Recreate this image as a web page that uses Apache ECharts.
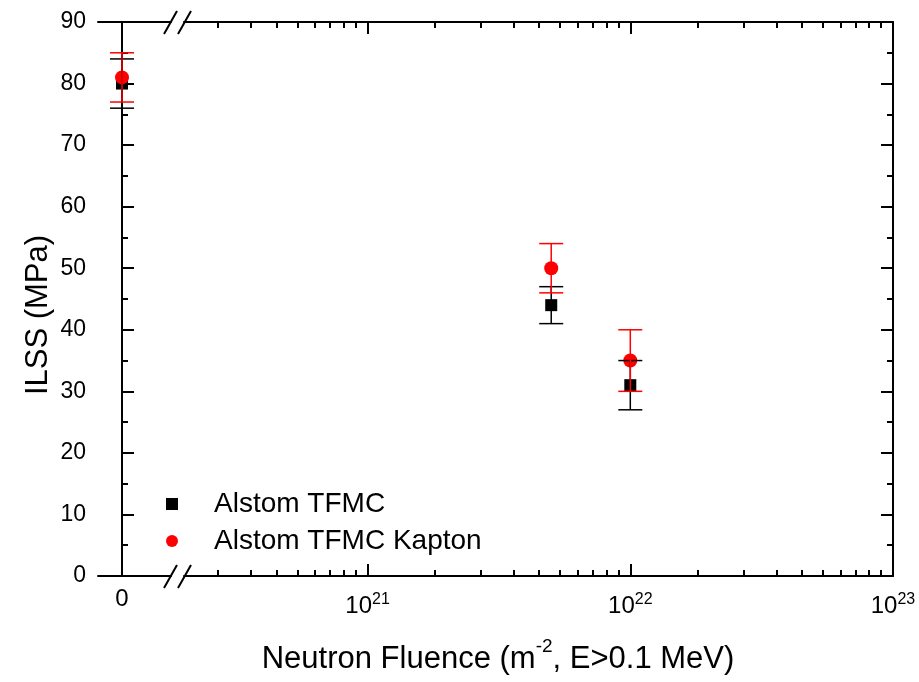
<!DOCTYPE html>
<html><head><meta charset="utf-8">
<script src="https://cdn.jsdelivr.net/npm/echarts@6/dist/echarts.min.js"></script>
<style>html,body{margin:0;padding:0;background:#fff}#c{width:919px;height:682px}</style>
</head><body><div id="c"></div>
<script>
// ---- data ----
const seriesNames = ['Alstom TFMC', 'Alstom TFMC Kapton'];
const fluence = [0, 5e21, 1e22];
const tfmcILSS = [80, 44, 31];
const tfmcErr = [4, 3, 4];
const kaptonILSS = [81, 50, 35];
const kaptonErr = [4, 4, 5];
const xZeroTicks = [0];
const xMajorTicks = [1e21, 1e22, 1e23];
const xMinorTicks = [
  2.7e20, 3.6e20, 4.5e20, 5.4e20, 6.3e20, 7.2e20, 8.1e20, 9.0e20,
  1.8e21, 2.7e21, 3.6e21, 4.5e21, 5.4e21, 6.3e21, 7.2e21, 8.1e21, 9.0e21,
  1.8e22, 2.7e22, 3.6e22, 4.5e22, 5.4e22, 6.3e22, 7.2e22, 8.1e22, 9.0e22
];
const yMin = 0, yMax = 90, yStep = 10;
const xLogMin = 2e20, xLogMax = 1.0001e23;

// ---- styling ----
const FONT = 'Liberation Sans, Arial, sans-serif';
const lineSt = { color: '#000', width: 2 };

function split(vals, errs, zero) {
  const out = [];
  fluence.forEach((f, i) => {
    if ((f === 0) === zero) out.push([f, vals[i], vals[i] - errs[i], vals[i] + errs[i]]);
  });
  return out;
}

function errSeries(name, data, xi, yi, color, z) {
  return {
    type: 'custom', name: name, xAxisIndex: xi, yAxisIndex: yi, z: z,
    data: data, silent: true,
    renderItem: function (params, api) {
      const x = api.value(0);
      const lo = api.coord([x, api.value(2)]);
      const hi = api.coord([x, api.value(3)]);
      const hw = 12;
      const st = { stroke: color, lineWidth: 1.5 };
      return { type: 'group', children: [
        { type: 'line', shape: { x1: lo[0], y1: lo[1], x2: hi[0], y2: hi[1] }, style: st },
        { type: 'line', shape: { x1: lo[0] - hw, y1: lo[1], x2: lo[0] + hw, y2: lo[1] }, style: st },
        { type: 'line', shape: { x1: hi[0] - hw, y1: hi[1], x2: hi[0] + hw, y2: hi[1] }, style: st }
      ]};
    }
  };
}

function scatter(name, data, xi, yi, symbol, size, color, z) {
  return {
    type: 'scatter', name: name, xAxisIndex: xi, yAxisIndex: yi, z: z,
    symbol: symbol, symbolSize: size, itemStyle: { color: color, opacity: 1 },
    data: data.map(d => [d[0], d[1]])
  };
}

const supLabel = v => '{b|10}{s|' + Math.round(Math.log10(v)) + '}';
const richX = {
  b: { fontSize: 24, fontFamily: FONT, color: '#000', verticalAlign: 'bottom', padding: [2, 0, 0, 0] },
  s: { fontSize: 16, fontFamily: FONT, color: '#000', verticalAlign: 'top' }
};

function xAx(gridIndex, position, type, min, max, ticks, len, labels, showLine) {
  const ax = {
    type: type, gridIndex: gridIndex, position: position, min: min, max: max,
    axisLine: { show: showLine, onZero: false, lineStyle: lineSt },
    axisTick: { show: true, inside: true, length: len, lineStyle: lineSt, customValues: ticks },
    splitLine: { show: false }, minorTick: { show: false },
    axisLabel: { show: false }
  };
  if (labels) ax.axisLabel = labels;
  return ax;
}

const tfA = split(tfmcILSS, tfmcErr, true), tfB = split(tfmcILSS, tfmcErr, false);
const kaA = split(kaptonILSS, kaptonErr, true), kaB = split(kaptonILSS, kaptonErr, false);

const option = {
  animation: false,
  backgroundColor: '#fff',
  grid: [
    { left: 98, top: 22, width: 73, bottom: 106 },
    { left: 184, top: 22, right: 26, bottom: 106 }
  ],
  xAxis: [
    xAx(0, 'bottom', 'value', -1, 2.04, xZeroTicks, 12,
      { show: true, customValues: xZeroTicks, fontSize: 24, fontFamily: FONT, color: '#000', margin: 11 }, true),
    xAx(0, 'top', 'value', -1, 2.04, xZeroTicks, 12, null, true),
    xAx(1, 'bottom', 'log', xLogMin, xLogMax, xMajorTicks, 12,
      { show: true, customValues: xMajorTicks, formatter: supLabel, rich: richX, margin: 16,
        showMaxLabel: true, showMinLabel: true, hideOverlap: false }, true),
    xAx(1, 'bottom', 'log', xLogMin, xLogMax, xMinorTicks, 6, null, false),
    xAx(1, 'top', 'log', xLogMin, xLogMax, xMajorTicks, 12, null, true),
    xAx(1, 'top', 'log', xLogMin, xLogMax, xMinorTicks, 6, null, false)
  ],
  yAxis: [
    { type: 'value', gridIndex: 0, position: 'left', min: yMin, max: yMax, interval: yStep,
      axisLine: { show: true, lineStyle: lineSt },
      axisTick: { show: true, inside: true, length: 12, lineStyle: lineSt },
      minorTick: { show: true, splitNumber: 2, length: 6, lineStyle: lineSt },
      splitLine: { show: false }, minorSplitLine: { show: false },
      axisLabel: { fontSize: 23, fontFamily: FONT, color: '#000', margin: 12 } },
    { type: 'value', gridIndex: 1, position: 'right', min: yMin, max: yMax, interval: yStep,
      axisLine: { show: true, lineStyle: lineSt },
      axisTick: { show: true, inside: true, length: 12, lineStyle: lineSt },
      minorTick: { show: true, splitNumber: 2, length: 6, lineStyle: lineSt },
      splitLine: { show: false }, minorSplitLine: { show: false },
      axisLabel: { show: false } }
  ],
  legend: {
    orient: 'vertical', left: 161, top: 484, itemWidth: 12, itemHeight: 12, itemGap: 7,
    selectedMode: false,
    data: [{ name: seriesNames[0], icon: 'rect' }, { name: seriesNames[1], icon: 'circle' }],
    textStyle: { fontSize: 28, fontFamily: FONT, color: '#000', lineHeight: 30, padding: [0, 0, 0, 31] }
  },
  series: [
    scatter(seriesNames[0], tfA, 0, 0, 'rect', 12, '#000', 2),
    scatter(seriesNames[0], tfB, 2, 1, 'rect', 12, '#000', 2),
    scatter(seriesNames[1], kaA, 0, 0, 'circle', 14, '#ff0000', 3),
    scatter(seriesNames[1], kaB, 2, 1, 'circle', 14, '#ff0000', 3),
    errSeries(seriesNames[0] + ' error', tfA, 0, 0, '#000', 4),
    errSeries(seriesNames[0] + ' error', tfB, 2, 1, '#000', 4),
    errSeries(seriesNames[1] + ' error', kaA, 0, 0, '#ff0000', 5),
    errSeries(seriesNames[1] + ' error', kaB, 2, 1, '#ff0000', 5)
  ],
  graphic: [
    { type: 'line', shape: { x1: 164, y1: 588, x2: 177, y2: 565 }, style: { stroke: '#000', lineWidth: 2 } },
    { type: 'line', shape: { x1: 178, y1: 588, x2: 191, y2: 565 }, style: { stroke: '#000', lineWidth: 2 } },
    { type: 'line', shape: { x1: 164, y1: 34, x2: 177, y2: 11 }, style: { stroke: '#000', lineWidth: 2 } },
    { type: 'line', shape: { x1: 178, y1: 34, x2: 191, y2: 11 }, style: { stroke: '#000', lineWidth: 2 } },
    { type: 'text', x: 38, y: 315, rotation: Math.PI / 2,
      style: { text: 'ILSS (MPa)', fontSize: 31, fontFamily: FONT, fill: '#000', align: 'center', verticalAlign: 'middle' } },
    { type: 'text', x: 498, y: 656,
      style: { text: '{a|Neutron Fluence (m}{s|-2}{a|, E>0.1 MeV)}', align: 'center', verticalAlign: 'middle',
        rich: {
          a: { fontSize: 31, fontFamily: FONT, fill: '#000', verticalAlign: 'bottom', padding: [6, 0, 0, 0] },
          s: { fontSize: 19, fontFamily: FONT, fill: '#000', verticalAlign: 'top' }
        } } }
  ]
};

const chart = echarts.init(document.getElementById('c'), null, { renderer: 'canvas' });
chart.setOption(option);
</script>
</body></html>
